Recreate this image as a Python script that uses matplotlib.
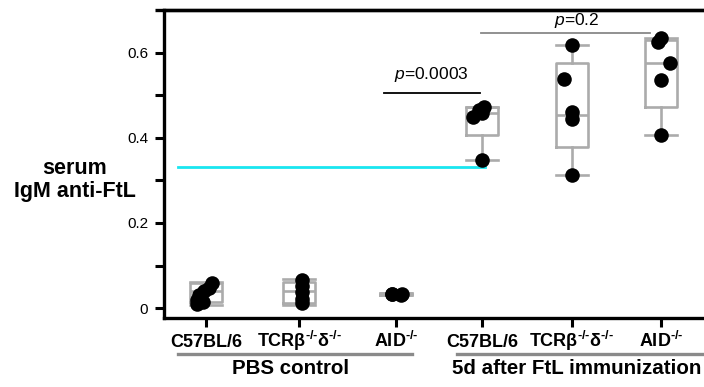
import matplotlib
matplotlib.use("Agg")
import matplotlib.pyplot as plt
from matplotlib.transforms import blended_transform_factory

plt.rcParams["font.family"] = ["Liberation Sans", "DejaVu Sans"]
plt.rcParams["mathtext.fontset"] = "custom"
plt.rcParams["mathtext.rm"] = "Liberation Sans:bold"
plt.rcParams["mathtext.it"] = "Liberation Sans:italic"
plt.rcParams["mathtext.bf"] = "Liberation Sans:bold"

# ---------------------------------------------------------------------------
# Data
# ---------------------------------------------------------------------------
groups = ["C57BL/6", r"TCRβ$^{\text{-/-}}$δ$^{\text{-/-}}$", r"AID$^{\text{-/-}}$",
          "C57BL/6", r"TCRβ$^{\text{-/-}}$δ$^{\text{-/-}}$", r"AID$^{\text{-/-}}$"]

pbs_c57 = [0.058, 0.048, 0.040, 0.030, 0.020, 0.014, 0.010]
pbs_tcr = [0.066, 0.052, 0.038, 0.022, 0.012]
pbs_aid = [0.034, 0.033, 0.032, 0.031]
imm_c57 = [0.348, 0.450, 0.458, 0.466, 0.472]
imm_tcr = [0.313, 0.445, 0.461, 0.539, 0.619]
imm_aid = [0.407, 0.536, 0.576, 0.625, 0.635]
points = [pbs_c57, pbs_tcr, pbs_aid, imm_c57, imm_tcr, imm_aid]

# box statistics as drawn in the reference
whis_lo = [0.008, 0.008, 0.030, 0.348, 0.313, 0.407]
q1 = [0.015, 0.013, 0.031, 0.407, 0.379, 0.473]
median = [0.040, 0.040, 0.033, 0.459, 0.454, 0.576]
q3 = [0.058, 0.062, 0.035, 0.473, 0.576, 0.630]
whis_hi = [0.062, 0.068, 0.036, 0.473, 0.619, 0.635]

threshold = 0.331
p_values = ["0.0003", "0.2"]
group_names = ["PBS control", "5d after FtL immunization"]

# ---------------------------------------------------------------------------
# Layout
# ---------------------------------------------------------------------------
positions = [1, 2.02, 3.08, 4.02, 5.0, 5.98]
jitter = [[0.07, 0.03, -0.02, -0.08, -0.1, -0.03, -0.1],
          [0.03, 0.03, 0.03, 0.03, 0.03],
          [-0.05, 0.06, -0.04, 0.05],
          [0.0, -0.1, 0.0, -0.03, 0.02],
          [0.0, 0.0, 0.0, -0.08, 0.0],
          [0.0, 0.0, 0.1, -0.03, 0.0]]
BOX_GRAY = "#ababab"

fig = plt.figure(figsize=(7.04, 3.87), dpi=100)
ax = fig.add_axes([0.233, 0.178, 0.767, 0.796])

stats = []
for i in range(len(positions)):
    stats.append(dict(whislo=whis_lo[i], q1=q1[i], med=median[i],
                      q3=q3[i], whishi=whis_hi[i], fliers=[]))
ax.bxp(stats, positions=positions, widths=0.35, capwidths=0.35,
       showfliers=False, manage_ticks=False,
       boxprops=dict(color=BOX_GRAY, lw=1.9),
       medianprops=dict(color=BOX_GRAY, lw=1.9),
       whiskerprops=dict(color=BOX_GRAY, lw=1.9),
       capprops=dict(color=BOX_GRAY, lw=1.9))

for pos, vals, jit in zip(positions, points, jitter):
    xs = [pos + j for j in jit]
    ax.scatter(xs, vals, s=110, color="black", zorder=5, linewidths=0)

# detection threshold
ax.plot([0.69, 4.05], [threshold, threshold], color="#19e6f0", lw=2, zorder=3)

# significance bars
ax.plot([2.95, 4.0], [0.505, 0.505], color="black", lw=1.3)
ax.text(3.47, 0.527, "$p$=" + p_values[0], ha="center", va="bottom", fontsize=12.5)
ax.plot([4.01, 5.86], [0.646, 0.646], color="#888888", lw=1.3)
ax.text(5.06, 0.653, "$p$=" + p_values[1], ha="center", va="bottom", fontsize=12.5)

# axes styling
ax.set_xlim(0.54, 6.45)
ax.set_ylim(-0.0235, 0.70)
ax.set_xticks(positions)
ax.set_xticklabels([])
ax.set_yticks([0, 0.1, 0.2, 0.3, 0.4, 0.5, 0.6])
ax.set_yticklabels(["0", "", "0.2", "", "0.4", "", "0.6"], fontsize=11)
ax.tick_params(axis="both", direction="out", length=6.5, width=2.2, color="black")
ax.tick_params(axis="y", pad=5)
ax.spines["right"].set_visible(False)
for side in ["left", "bottom", "top"]:
    ax.spines[side].set_linewidth(2.4)
ax.plot([-0.017, 1], [1, 1], transform=ax.transAxes, color="black",
        lw=2.4, clip_on=False, solid_capstyle="butt")

# category labels placed on a common baseline
trans = blended_transform_factory(ax.transData, ax.transAxes)
for pos, name in zip(positions, groups):
    ax.text(pos, -0.094, name, transform=trans, ha="center", va="baseline",
            fontsize=13, fontweight="bold")

# group underlines and labels
ax.plot([0.69, 3.25], [-0.117, -0.117], transform=trans, color="#8a8a8a",
        lw=2.4, clip_on=False)
ax.plot([3.75, 6.45], [-0.117, -0.117], transform=trans, color="#8a8a8a",
        lw=2.4, clip_on=False)
ax.text(1.93, -0.162, group_names[0], transform=trans, ha="center", va="center",
        fontsize=14.8, fontweight="bold")
ax.text(5.06, -0.162, group_names[1], transform=trans, ha="center", va="center",
        fontsize=14.8, fontweight="bold")

fig.text(75 / 704, 1 - 180 / 387, "serum\nIgM anti-FtL", ha="center", va="center",
         fontsize=15.5, fontweight="bold", linespacing=1.15)

fig.savefig("out.png", dpi=100)
